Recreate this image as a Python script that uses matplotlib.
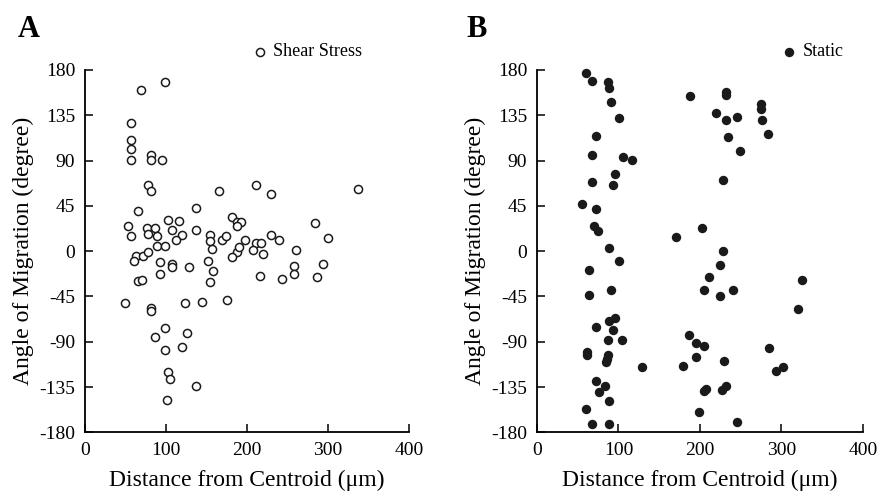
import matplotlib
matplotlib.use("Agg")
import matplotlib.pyplot as plt

plt.rcParams['font.family'] = ['Liberation Serif', 'DejaVu Serif']
plt.rcParams['axes.unicode_minus'] = False

# Shear stress (panel A): distance from centroid (um), angle (degree)
shear_x = [99, 69, 57, 57, 57, 57, 82, 81, 95, 78, 82, 165, 65, 137,
           53, 57, 76, 78, 86, 88.5, 103, 107, 116, 120, 112, 137, 154, 154,
           169, 174, 182, 188, 192, 188, 197, 89, 99, 157, 188, 190, 182,
           63, 61, 72, 78, 92.5, 107, 108, 129, 152, 158, 154, 92.5, 65, 70,
           50, 82, 82, 124, 144, 175, 99, 126, 86, 120, 99, 103, 105, 137, 101,
           211, 230, 337, 284, 300, 211, 217, 207, 220, 230, 240, 260, 258,
           258, 294, 286, 216, 243.5]
shear_y = [168, 160, 127, 110, 101, 91, 96, 91, 91, 66, 60, 60, 40, 43,
           25, 15, 23, 17, 23, 15, 31, 21, 29.5, 16, 11, 21, 16, 10,
           11, 15, 33.5, 28.5, 28.5, 24.5, 11, 5, 5, 2, -1, 4, -6,
           -5, -10, -5, -1, -11, -13, -16, -16, -10, -20, -31, -23, -30, -28.5,
           -52, -56, -59, -52, -51, -49, -76, -81, -85, -95, -98, -120, -127, -134, -148,
           66, 57, 62, 28, 12.6, 7.6, 7.6, 1, -3, 16, 11, 1, -14.6,
           -23, -13, -26, -24.5, -28]

# Static (panel B)
static_x = [60, 68, 87, 89, 91, 101, 72, 67.5, 106, 116.5, 96, 67.5, 93, 55,
            72, 70, 74.5, 89, 101, 64, 64, 91, 96, 89, 72, 93, 87, 104, 62, 62,
            87, 85.5, 85, 129, 72, 83.5, 76.5, 89, 60, 68, 89,
            170.5, 188, 232, 232, 219.6, 232, 245, 234, 249, 228, 202, 228, 224,
            211, 205, 224, 241, 186, 195, 205, 195, 179.5, 230, 207, 205.5, 232,
            226.6, 199, 245, 274.5, 274.5, 276.5, 283, 325, 320.6, 284.7, 293, 302]
static_y = [176.5, 169, 168, 162.5, 148, 132, 114.5, 96, 94, 91, 77, 69, 65.5, 46.7,
            41.4, 25, 19.6, 2.7, -10, -18.5, -43.7, -38.7, -66, -69, -75, -78, -88, -88, -100, -103,
            -103, -107, -110.5, -115.5, -129, -134, -140, -148.7, -157, -172, -172,
            14, 154, 158, 155, 137.7, 130, 133.7, 113, 99.6, 70.8, 22.5, 0.3, -13.6,
            -25.5, -38.4, -44.4, -38.4, -83.4, -91.7, -94.6, -105, -114, -109, -137, -139, -134.4,
            -137.7, -159.6, -170, 146, 141, 130.4, 116.5, -28.5, -57.6, -96.6, -119, -115.5]

x_ticks = [0, 100, 200, 300, 400]
y_ticks = [-180, -135, -90, -45, 0, 45, 90, 135, 180]

fig = plt.figure(figsize=(8.89, 4.93), dpi=100)
axA = fig.add_axes([0.0956, 0.1231, 0.3645, 0.735])
axB = fig.add_axes([0.604, 0.1231, 0.3667, 0.735])

axA.scatter(shear_x, shear_y, s=34, facecolors='white', edgecolors='#1a1a1a',
            linewidths=1.1, label='Shear Stress', zorder=3, clip_on=False)
axB.scatter(static_x, static_y, s=46, color='#1a1a1a', linewidths=0,
            label='Static', zorder=3, clip_on=False)

for ax, lx in [(axA, 0.52), (axB, 0.755)]:
    ax.set_xlim(0, 400)
    ax.set_ylim(-180, 180)
    ax.set_xticks(x_ticks)
    ax.set_xticklabels([str(t) for t in x_ticks])
    ax.set_yticks(y_ticks)
    ax.set_yticklabels([str(t) for t in y_ticks])
    ax.spines['top'].set_visible(False)
    ax.spines['right'].set_visible(False)
    ax.spines['left'].set_linewidth(1.3)
    ax.spines['bottom'].set_linewidth(1.3)
    ax.tick_params(direction='in', length=6, width=1.1, labelsize=14, pad=7)
    ax.set_xlabel('Distance from Centroid (μm)', fontsize=17, labelpad=8)
    ax.set_ylabel('Angle of Migration (degree)', fontsize=17, labelpad=4)
    ax.legend(loc='center left', bbox_to_anchor=(lx, 1.05), frameon=False,
              borderpad=0, borderaxespad=0, handlelength=0.7, handletextpad=0.4,
              fontsize=13)

fig.text(0.02, 0.925, 'A', fontsize=22, fontweight='bold')
fig.text(0.525, 0.925, 'B', fontsize=22, fontweight='bold')

fig.savefig('out.png', dpi=100)
